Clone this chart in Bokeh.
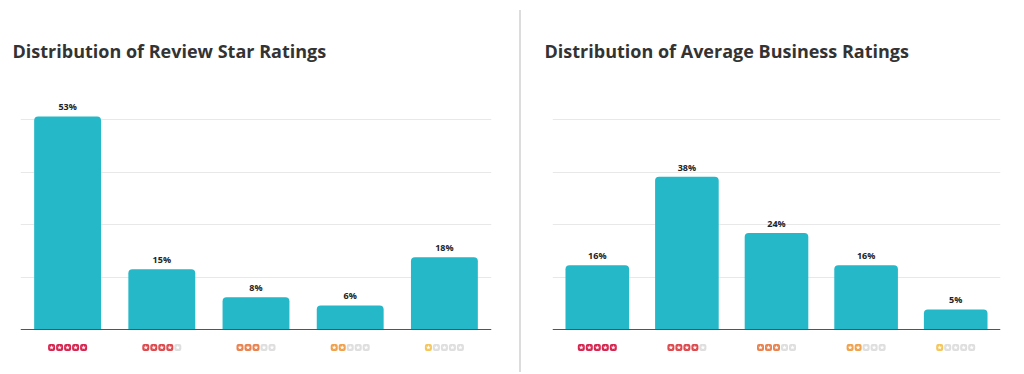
from bokeh.plotting import figure
from bokeh.layouts import row
from bokeh.models import ColumnDataSource, FixedTicker, Grid, Span, Div
from bokeh.core.properties import value
from bokeh.embed import file_html
from bokeh.resources import INLINE

# ---- data ----
star_levels = [5, 4, 3, 2, 1]
review_pct = [53, 15, 8, 6, 18]
review_labels = ["53%", "15%", "8%", "6%", "18%"]
business_pct = [16, 38, 24, 16, 5]
business_labels = ["16%", "38%", "24%", "16%", "5%"]
grid_ticks = [13.05, 26.1, 39.15, 52.2]
titles = ["Distribution of Review Star Ratings", "Distribution of Average Business Ratings"]

# ---- styles ----
BAR = "#25b8c8"
STAR_COLORS = {5: "#d6264f", 4: "#dd4a4e", 3: "#e8824e", 2: "#efa14c", 1: "#f5c55a"}
EMPTY = "#dedede"
FONT = "Open Sans"
H = 372
TOP = 98
BOTTOM = 365
BASE = 329
PX_PER_PCT = 4.02
Y1 = (BASE - TOP) / PX_PER_PCT
Y0 = -(BOTTOM - BASE) / PX_PER_PCT


def make_chart(title, vals, labels, frame_w, border_l, border_r):
    p = figure(width=border_l + frame_w + border_r, height=H,
               x_range=(-0.5, 4.5), y_range=(Y0, Y1),
               x_axis_type=None, y_axis_type=None,
               toolbar_location=None, output_backend="svg",
               min_border_left=border_l, min_border_right=border_r,
               min_border_top=TOP, min_border_bottom=H - BOTTOM,
               outline_line_color=None, title=title)
    p.title.text_font = FONT
    p.title.text_font_size = "18px"
    p.title.text_font_style = "bold"
    p.title.text_color = "#333333"
    p.title.offset = -8
    p.title.standoff = 72
    p.add_layout(Grid(dimension=1, ticker=FixedTicker(ticks=grid_ticks),
                      grid_line_color="#e8e8e8", grid_line_width=1))
    p.add_layout(Span(location=0, dimension="width", line_color="#555555", line_width=1))

    xs = list(range(len(vals)))
    src = ColumnDataSource(dict(x=xs, top=vals, label=labels))
    p.vbar(x="x", top="top", bottom=0, width=0.71, source=src,
           fill_color=BAR, line_color=None, border_radius=(4, 4, 0, 0))
    p.text(x="x", y="top", text="label", source=src, y_offset=-3,
           text_align="center", text_baseline="bottom",
           text_font=value(FONT), text_font_style="bold",
           text_font_size="9px", text_color="#222222")

    # star icons below each bar
    ppu = frame_w / len(vals)
    ix, iy, ic = [], [], []
    for i, n in enumerate(star_levels):
        for k in range(5):
            ix.append(i + (k - 2) * 8 / ppu)
            iy.append(-4.5)
            ic.append(STAR_COLORS[n] if k < n else EMPTY)
    isrc = ColumnDataSource(dict(x=ix, y=iy, c=ic))
    p.rect(x="x", y="y", width=7, height=7, width_units="screen", height_units="screen",
           source=isrc, fill_color="c", line_color=None, border_radius=2)
    p.scatter(x="x", y="y", source=isrc, marker="star", size=5,
              fill_color="white", line_color=None)
    return p


left = make_chart(titles[0], review_pct, review_labels, 471, 20, 28)
right = make_chart(titles[1], business_pct, business_labels, 448, 31, 16)

div = Div(text="", width=2, height=362, margin=(10, 0, 0, 0),
          styles={"background-color": "#dcdcdc"})

layout = row(left, div, right)
open("out.html", "w").write(file_html(layout, INLINE))
